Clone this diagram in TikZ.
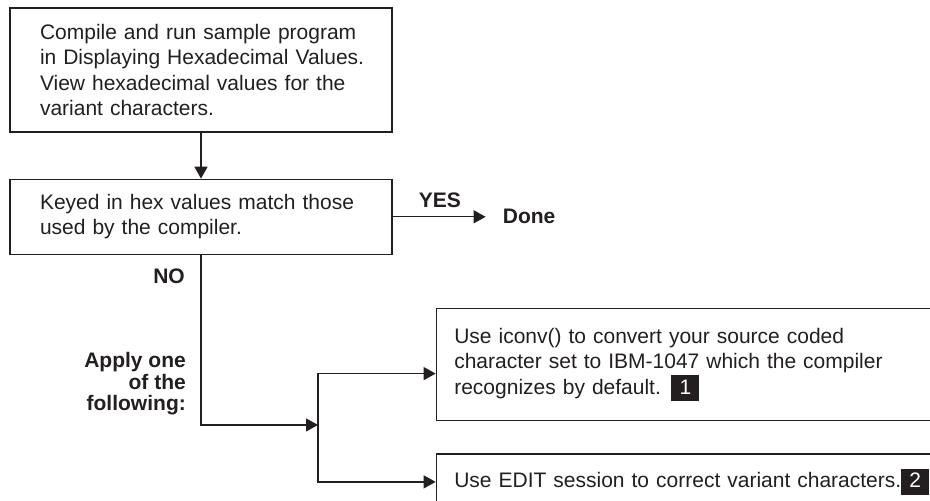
\documentclass[tikz,border=0pt]{standalone}
\usepackage{fontspec}
\setmainfont{Liberation Sans}
\usetikzlibrary{arrows.meta,positioning}
\definecolor{ink}{HTML}{231F20}
\newcommand{\callout}[1]{{\setlength{\fboxsep}{0pt}\colorbox{ink}{\makebox[28pt]{\rule[-7pt]{0pt}{26pt}\textcolor{white}{#1}}}}}
\tikzset{
  stepbox/.style={draw=ink,line width=1.3pt,align=left,text=ink,font=\fontsize{21}{25.5}\selectfont},
  leftbox/.style={stepbox,text width=372pt,inner xsep=5pt,execute at begin node={\leftskip=25pt\relax}},
  optbox/.style={stepbox,text width=600pt,inner xsep=18pt},
  lbl/.style={inner sep=0pt,text=ink,font=\fontsize{21}{21.5}\selectfont\bfseries},
  arr/.style={-{Triangle[length=12pt,width=13pt]},line width=1.3pt,draw=ink}
}

\begin{document}
\begin{tikzpicture}[x=1pt,y=-1pt]
  \useasboundingbox (0,0) rectangle (930,501);
  \clip (0,0) rectangle (930,501);
  \node[leftbox,minimum height=124pt] (start) at (201,70) {Compile and run sample program\\in Displaying Hexadecimal Values.\\View hexadecimal values for the\\variant characters.};
  \node[leftbox,minimum height=75pt,below=46pt of start] (check) {Keyed in hex values match those\\used by the compiler.};
  \node[lbl,right=110pt of check] (done) {Done};
  \node[lbl,below left=14pt and 16pt of check.south] (no) {NO};
  \node[lbl,align=right,below left=68pt and -1pt of no.south east] (apply) {Apply one\\of the\\following:};
  \node[optbox,minimum height=112pt,below right=53pt and 43pt of check.south east] (iconv) {Use iconv() to convert your source coded\\character set to IBM-1047 which the compiler\\recognizes by default. \callout{1}};
  \node[optbox,minimum height=56pt,below=32pt of iconv] (edit) {Use EDIT session to correct variant characters.\callout{2}};
  \coordinate[below right=170pt and 117pt of check.south] (split);
  % connectors
  \draw[arr] (start) -- (check);
  \draw[arr,shorten >=17pt] (check) -- node[lbl,pos=0.43,above=8pt] {YES} (done);
  \draw[arr] (check) |- (split);
  \draw[arr] (split) |- ([yshift=-9pt]iconv.west);
  \draw[arr] (split) |- (edit.west);
\end{tikzpicture}
\end{document}
